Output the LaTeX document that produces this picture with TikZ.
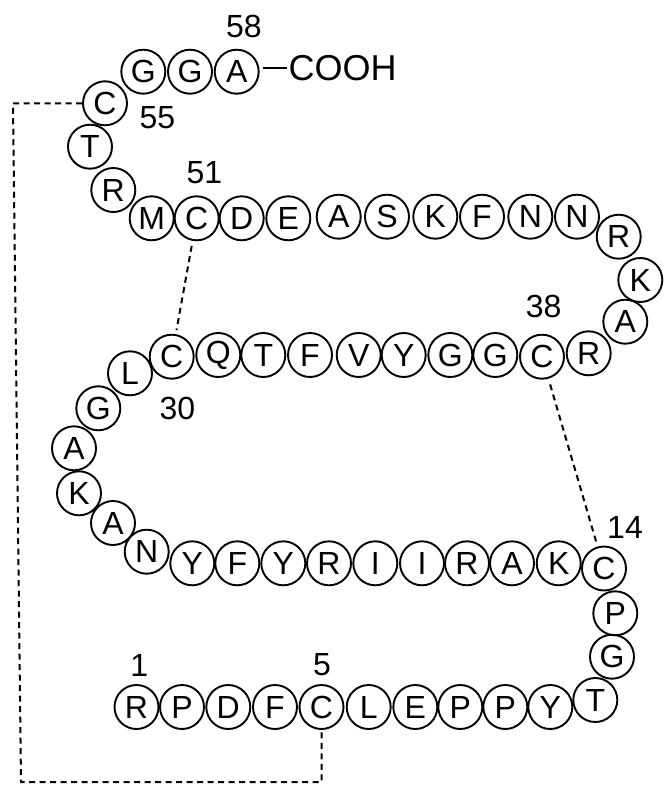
\documentclass[tikz,border=0pt]{standalone}
\usepackage{fontspec}
\setmainfont{Liberation Sans}
\begin{document}
\begin{tikzpicture}[x=1pt,y=-1pt,font=\fontsize{32}{38}\selectfont,
	res/.style={shape=circle,draw,line width=1.9pt,minimum size=44pt,inner sep=0pt},
	num/.style={inner sep=0pt},
	ssbond/.style={dash pattern=on 6pt off 4.5pt,line width=2pt}]
\useasboundingbox (0,0) rectangle (664,787);
\foreach \x/\y/\aa [count=\i] in {
	136.5/707/R, 182/707/P, 228.3/707/D, 275/707/F, 321.5/707/C,
	368.7/707/L, 415.3/707/E, 460.3/707/P, 505.3/707/P, 550.3/707/Y,
	595.3/700/T, 612/656.7/G, 615.3/613.3/P, 604/568.5/C,
	558.7/563.3/K, 512/563.3/A, 467/563.3/R, 422/563.3/I, 375.3/563.3/I,
	329/563.3/R, 283.3/563.3/Y, 237.3/563.3/F, 192.3/563.3/Y, 146.7/551.7/N,
	113/523/A, 79/493.3/K, 74/448.3/A, 98.3/408.3/G, 130/373.3/L, 171.7/356.7/C,
	218.3/355/Q, 263.3/355/T, 310/355/F, 358.7/355/V, 403.7/355/Y,
	450.3/355/G, 495.3/355/G, 542/356.7/C, 588.7/353.3/R, 625.3/321.7/A,
	640.3/280/K, 618.7/236.7/R, 577/216.7/N,
	530.3/216.7/N, 482/216.7/F, 435.3/216.7/K, 387/216.7/S, 338.7/216.7/A,
	288.3/218.3/E, 241.7/218.3/D, 196.7/218.3/C, 151.7/218.3/M,
	113.3/190/R, 90/146.7/T, 105/103.3/C, 143.3/71.7/G, 190/71.7/G, 236.7/71.7/A}
	\node[res] (r\i) at (\x,\y) {\aa};
\node[num,font=\fontsize{36}{42}\selectfont,anchor=west] (cooh) at (288.5,67.7) {COOH};
\draw[line width=1.8pt,shorten <=3pt,shorten >=1.5pt] (r58.east |- cooh.west) -- (cooh.west);
\node[num] (n58) at (244,26.7) {58};
\node[num] (n55) at (157.5,117.5) {55};
\node[num] (n51) at (204.5,172.5) {51};
\node[num] (n38) at (543.7,306) {38};
\node[num] (n30) at (177.5,408.5) {30};
\node[num] (n14) at (625,527.5) {14};
\node[num] (n1) at (139.2,665.5) {1};
\node[num] (n5) at (322,665) {5};
\coordinate (ctop) at (13,103.3);
\coordinate (cbot) at (21,782);
\draw[ssbond,shorten <=5pt,shorten >=4pt] (r51) -- (r30);
\draw[ssbond,shorten <=6pt,shorten >=4pt] (r38) -- (r14);
\draw[ssbond] (r55.west) -- (ctop) -- (cbot) -- (cbot -| r5.south) -- (r5.south);
\end{tikzpicture}
\end{document}
